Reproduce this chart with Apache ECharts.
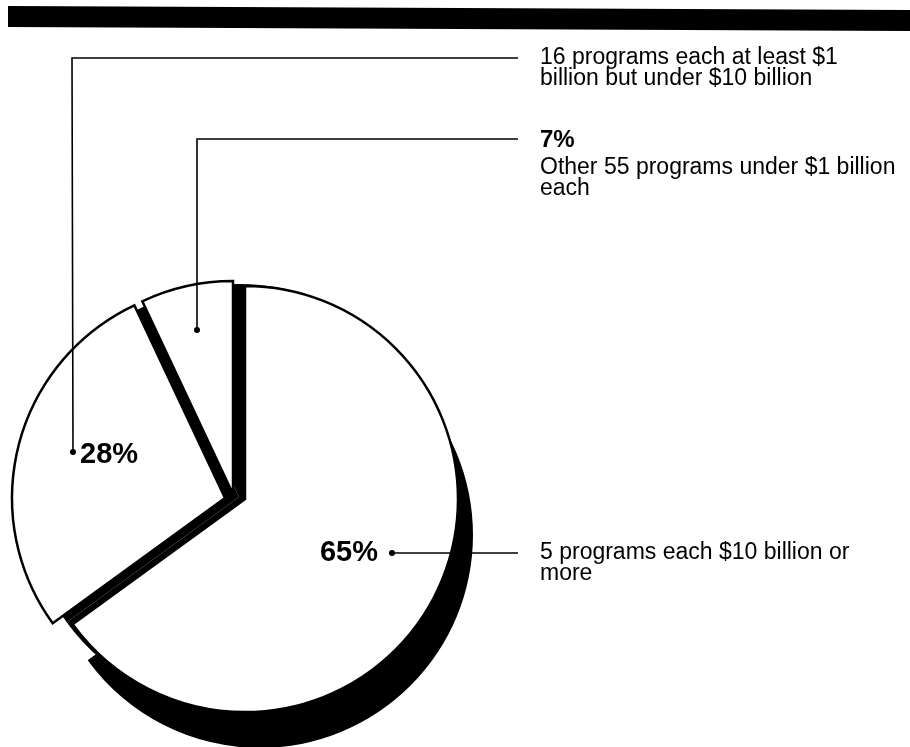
<!DOCTYPE html>
<html><head><meta charset="utf-8">
<script src="https://cdn.jsdelivr.net/npm/echarts@6/dist/echarts.min.js"></script>
<style>html,body{margin:0;padding:0;background:#fff}#c{width:910px;height:747px}</style>
</head><body><div id="c"></div>
<script>
// ---- data ----
const categories = [
  '5 programs each $10 billion or more',
  '16 programs each at least $1 billion but under $10 billion',
  'Other 55 programs under $1 billion each'
];
const shares = [65, 28, 7];
const shareLabels = ['65%', '28%', '7%'];
const descriptionLines = [
  ['5 programs each $10 billion or', 'more'],
  ['16 programs each at least $1', 'billion but under $10 billion'],
  ['Other 55 programs under $1 billion', 'each']
];

// ---- layout (positions / styles) ----
const FONT = '"Liberation Sans", Arial, Helvetica, sans-serif';
const C = [239, 497], R = 213;
const sliceShift = [[6, 2], [-14, 1], [-6, -3]];
const shadowShift = [15, 36];
const leaders = [
  [[392, 553], [455, 553], [518, 553]],
  [[73, 452], [72, 58], [518, 58]],
  [[197, 330], [197, 139], [518, 139]]
];
const textTop = [[540, 542], [540, 47], [540, 124]];
const pctPos = [[378, 553, 'right'], [80, 455, 'left'], null];

function sliceData(styleFor, labelFor) {
  return shares.map((v, i) => {
    const d = { value: v, name: categories[i], itemStyle: styleFor(i) };
    if (labelFor) d.label = labelFor(i);
    return d;
  });
}
const clear = { color: 'rgba(0,0,0,0)', borderWidth: 0 };
const base = {
  type: 'pie', radius: R, startAngle: 90, clockwise: true, silent: true,
  avoidLabelOverlap: false, animation: false, emphasis: { disabled: true },
  label: { show: false }, labelLine: { show: false }
};

const series = [];
// shadow of the large slice
series.push(Object.assign({}, base, {
  z: 1,
  center: [C[0] + sliceShift[0][0] + shadowShift[0], C[1] + sliceShift[0][1] + shadowShift[1]],
  data: sliceData(i => i === 0 ? { color: '#000', borderWidth: 0 } : clear)
}));
// black body showing between the slices
series.push(Object.assign({}, base, {
  z: 2, center: C, radius: R,
  data: sliceData(() => ({ color: '#000', borderWidth: 0 }))
}));
// white slices, each slightly pulled apart
shares.forEach((v, k) => {
  series.push(Object.assign({}, base, {
    z: 3,
    center: [C[0] + sliceShift[k][0], C[1] + sliceShift[k][1]],
    data: sliceData(
      i => i === k ? { color: '#fff', borderColor: '#000', borderWidth: 2.5, borderJoin: 'miter' } : clear,
      i => ({ show: i === k && pctPos[k] !== null })
    ),
    label: {
      show: false, formatter: p => shareLabels[p.dataIndex],
      fontFamily: FONT, fontWeight: 'bold', fontSize: 29, color: '#000'
    },
    labelLayout: p => pctPos[k] ? { x: pctPos[k][0], y: pctPos[k][1], align: pctPos[k][2], verticalAlign: 'middle' } : {}
  }));
});
// descriptions with leader lines
series.push(Object.assign({}, base, {
  z: 10, center: C,
  data: sliceData(() => clear),
  label: {
    show: true, position: 'outside', color: '#000',
    formatter: p => {
      const i = p.dataIndex;
      const lines = descriptionLines[i].map(t => '{d|' + t + '}');
      if (i === 2) lines.unshift('{p|' + shareLabels[i] + '}');
      return lines.join('\n');
    },
    rich: {
      d: { fontFamily: FONT, fontSize: 23, lineHeight: 21, color: '#000' },
      p: { fontFamily: FONT, fontSize: 24, fontWeight: 'bold', lineHeight: 33, color: '#000' }
    }
  },
  labelLine: { show: true, length: 10, length2: 10, lineStyle: { color: '#000', width: 1.6 } },
  labelLayout: p => ({
    x: textTop[p.dataIndex][0], y: textTop[p.dataIndex][1],
    align: 'left', verticalAlign: 'top',
    labelLinePoints: leaders[p.dataIndex]
  })
}));

const graphics = [
  { type: 'polygon', z: 100, shape: { points: [[8, 6], [910, 10], [910, 31], [8, 27]] }, style: { fill: '#000' } }
].concat(leaders.map(l => ({
  type: 'circle', z: 100, shape: { cx: l[0][0], cy: l[0][1], r: 3 }, style: { fill: '#000' }
})));

const chart = echarts.init(document.getElementById('c'), null, { renderer: 'canvas' });
chart.setOption({
  backgroundColor: '#fff',
  animation: false,
  graphic: graphics,
  series: series
});
</script>
</body></html>
